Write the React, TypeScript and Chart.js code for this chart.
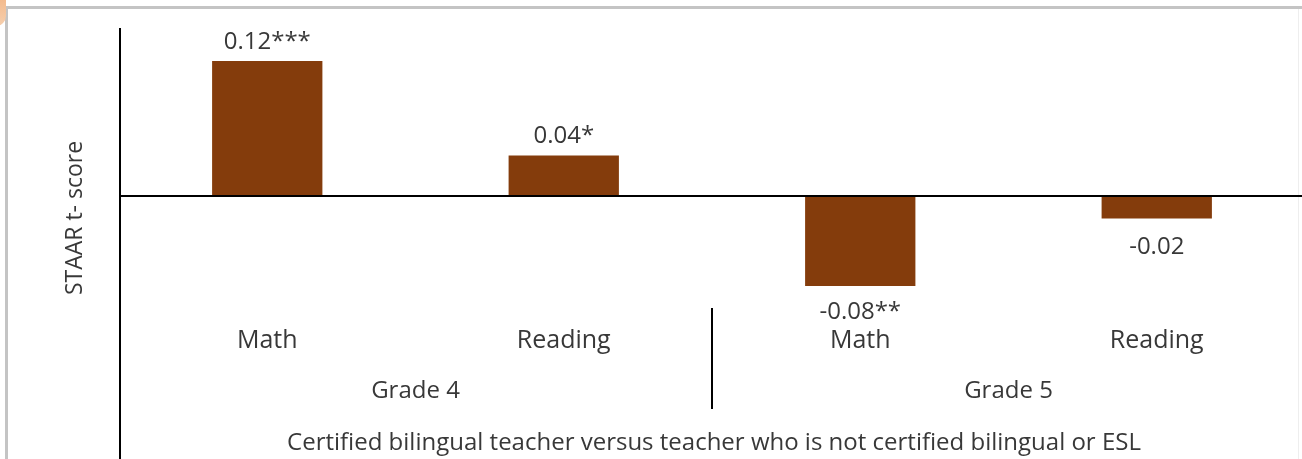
import React, { useEffect, useRef } from "react";
import { Chart, registerables } from "chart.js";

Chart.register(...registerables);

const categories = ["Math", "Reading", "Math", "Reading"];
const groups = ["Grade 4", "Grade 5"];
const values = [0.12, 0.036, -0.08, -0.02];
const valueLabels = ["0.12***", "0.04*", "-0.08**", "-0.02"];
const yTitle = "STAAR t- score";
const xTitle = "Certified bilingual teacher versus teacher who is not certified bilingual or ESL";

const FONT = "'Open Sans', 'DejaVu Sans', sans-serif";
const TEXT = "#383838";

const overlay = {
  id: "overlay",
  afterDatasetsDraw(chart: any) {
    const ctx = chart.ctx;
    const area = chart.chartArea;
    const x = chart.scales.x;
    const y = chart.scales.y;
    const meta = chart.getDatasetMeta(0);
    const zeroY = y.getPixelForValue(0);
    ctx.save();
    ctx.strokeStyle = "#000";
    ctx.lineWidth = 2;
    ctx.beginPath();
    ctx.moveTo(area.left + 1, area.top);
    ctx.lineTo(area.left + 1, area.bottom);
    ctx.stroke();
    ctx.beginPath();
    ctx.moveTo(area.left, zeroY);
    ctx.lineTo(area.right, zeroY);
    ctx.stroke();
    const sepX = (x.getPixelForValue(1) + x.getPixelForValue(2)) / 2;
    ctx.beginPath();
    ctx.moveTo(sepX, 308);
    ctx.lineTo(sepX, 409);
    ctx.stroke();

    ctx.fillStyle = TEXT;
    ctx.textAlign = "center";
    ctx.textBaseline = "middle";
    ctx.font = `24px ${FONT}`;
    meta.data.forEach((bar: any, i: number) => {
      const v = values[i];
      const ly = v >= 0 ? bar.y - 19 : bar.y + (v < -0.05 ? 26 : 29);
      ctx.fillText(valueLabels[i], bar.x, ly);
    });
    ctx.font = `25px ${FONT}`;
    categories.forEach((c, i) => {
      ctx.fillText(c, x.getPixelForValue(i), 341);
    });
    ctx.font = `24px ${FONT}`;
    groups.forEach((g, gi) => {
      const cx = (x.getPixelForValue(gi * 2) + x.getPixelForValue(gi * 2 + 1)) / 2;
      ctx.fillText(g, cx, 391);
    });
    ctx.font = `24px ${FONT}`;
    ctx.fillText(xTitle, sepX + 2, 443);
    ctx.translate(75, 218);
    ctx.rotate(-Math.PI / 2);
    ctx.font = `23px ${FONT}`;
    ctx.fillText(yTitle, 0, 0);
    ctx.restore();
  },
};

export default function App() {
  const ref = useRef<HTMLCanvasElement>(null);
  useEffect(() => {
    const chart = new Chart(ref.current!, {
      type: "bar",
      data: {
        labels: categories,
        datasets: [
          {
            data: values,
            backgroundColor: "#843C0C",
            borderWidth: 0,
            barPercentage: 0.372,
            categoryPercentage: 1,
          },
        ],
      },
      options: {
        responsive: false,
        animation: false,
        layout: { padding: { left: 119, right: 0, top: 28, bottom: 0 } },
        plugins: { legend: { display: false }, tooltip: { enabled: false } },
        scales: {
          x: { display: false },
          y: { display: false, min: -0.2338, max: 0.1493 },
        },
      },
      plugins: [overlay],
    });
    return () => chart.destroy();
  }, []);
  return (
    <div style={{ position: "fixed", left: 0, top: 0, width: 1302, height: 459, background: "#fff", overflow: "hidden" }}>
      <div style={{ position: "absolute", left: 5, top: 6, width: 1297, height: 3, background: "#c4c4c4" }} />
      <div style={{ position: "absolute", left: 5, top: 6, width: 3, height: 453, background: "#c4c4c4" }} />
      <div style={{ position: "absolute", left: 1298, top: 9, width: 1, height: 450, background: "#eeeeee" }} />
      <div
        style={{
          position: "absolute",
          left: -6,
          top: -4,
          width: 12,
          height: 30,
          borderRadius: "0 0 10px 0",
          background: "linear-gradient(to bottom, #f3b889, #f6cfae)",
        }}
      />
      <canvas ref={ref} width={1305} height={459} style={{ position: "absolute", left: 0, top: 0 }} />
    </div>
  );
}
